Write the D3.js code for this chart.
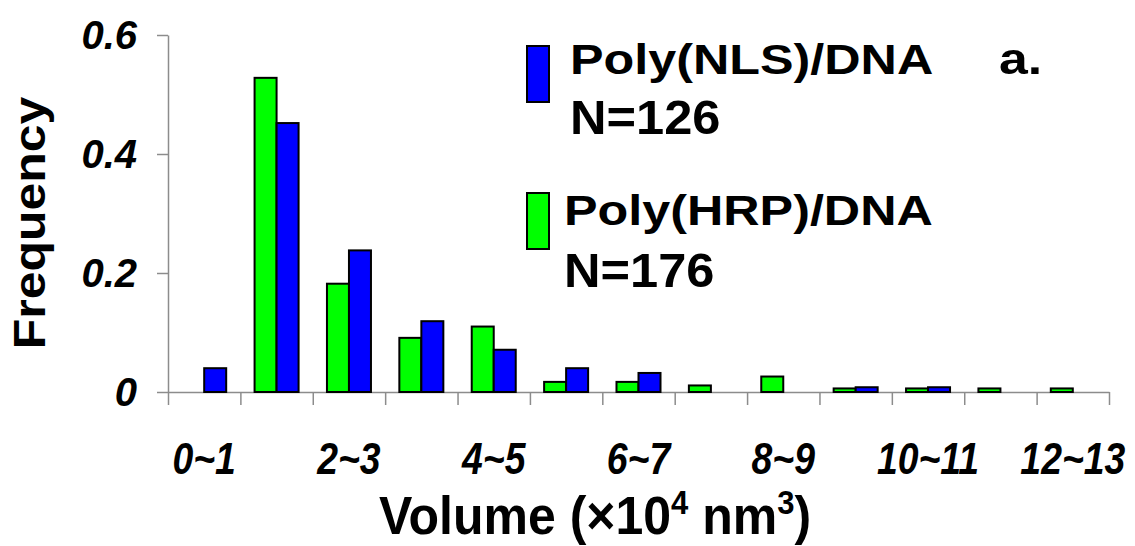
<!DOCTYPE html>
<html>
<head>
<meta charset="utf-8">
<script src="https://cdn.jsdelivr.net/npm/d3@7"></script>
<style>
  body { margin: 0; background: #fff; }
  svg text { font-family: "Liberation Sans", Arial, sans-serif; font-weight: bold; fill: #000; }
</style>
</head>
<body>
<div id="root"></div>
<script>
const width = 1135;
const height = 546;

// volume bins (x10^4 nm^3)
const categories = ["0~1", "1~2", "2~3", "3~4", "4~5", "5~6", "6~7", "7~8", "8~9", "9~10", "10~11", "11~12", "12~13"];
const hrp = [0, 0.528, 0.182, 0.091, 0.11, 0.017, 0.017, 0.011, 0.026, 0.006, 0.006, 0.006, 0.006];
const nls = [0.04, 0.452, 0.238, 0.119, 0.071, 0.04, 0.032, 0, 0, 0.008, 0.008, 0, 0];
const series = ["hrp", "nls"];
const yTicks = [0, 0.2, 0.4, 0.6];

const colors = { hrp: "#00ff00", nls: "#0000ff" };
const rows = categories.map((c, i) => ({ cat: c, hrp: hrp[i], nls: nls[i] }));

const plotLeft = 168, plotRight = 1109, plotTop = 35, plotBottom = 392;

const x = d3.scaleBand().domain(categories).range([plotLeft, plotRight]).padding(0);
const xs = d3.scaleBand().domain(series).range([0, x.bandwidth()]).paddingInner(0).paddingOuter(0.645);
const xl = d3.scaleLinear().domain([0, categories.length]).range([plotLeft, plotRight]);
const y = d3.scaleLinear().domain([0, 0.6]).range([plotBottom, plotTop]);

const svg = d3.create("svg").attr("width", width).attr("height", height);

// axes
const xAxis = svg.append("g")
  .attr("transform", `translate(0,${plotBottom})`)
  .call(d3.axisBottom(xl).ticks(categories.length).tickFormat("").tickSize(13).tickSizeOuter(0));
const yAxis = svg.append("g")
  .attr("transform", `translate(${plotLeft},0)`)
  .call(d3.axisLeft(y).tickValues(yTicks).tickFormat("").tickSize(11).tickSizeOuter(0));
[xAxis, yAxis].forEach(a => {
  a.selectAll("path, line").attr("stroke", "#8c8c8c").attr("stroke-width", 1.5);
  a.selectAll("text").remove();
});

// bars
svg.append("g")
  .selectAll("g")
  .data(rows)
  .join("g")
  .attr("transform", d => `translate(${x(d.cat)},0)`)
  .selectAll("rect")
  .data(d => series.map(s => ({ key: s, value: d[s] })).filter(v => v.value > 0))
  .join("rect")
  .attr("x", d => xs(d.key))
  .attr("width", xs.bandwidth())
  .attr("y", d => y(d.value))
  .attr("height", d => y(0) - y(d.value))
  .attr("fill", d => colors[d.key])
  .attr("stroke", "#000")
  .attr("stroke-width", 2);

// y tick labels
svg.append("g")
  .selectAll("text")
  .data(yTicks)
  .join("text")
  .attr("x", 137)
  .attr("y", d => y(d) + 14)
  .attr("text-anchor", "end")
  .attr("font-size", 40)
  .attr("font-style", "italic")
  .text(d => d === 0 ? "0" : d.toFixed(1));

// x tick labels (every other bin)
svg.append("g")
  .selectAll("text")
  .data(categories.filter((c, i) => i % 2 === 0))
  .join("text")
  .attr("transform", d => `translate(${x(d) + x.bandwidth() / 2},474) scale(0.83,1)`)
  .attr("text-anchor", "middle")
  .attr("font-size", 45)
  .attr("font-style", "italic")
  .text(d => d);

// axis titles
svg.append("text")
  .attr("transform", "translate(45,223) rotate(-90) scale(1.11,1)")
  .attr("text-anchor", "middle")
  .attr("font-size", 45)
  .text("Frequency");

const xt = svg.append("text")
  .attr("transform", "translate(595,534) scale(1,1.06)")
  .attr("text-anchor", "middle")
  .attr("font-size", 50);
xt.append("tspan").text("Volume (×10");
xt.append("tspan").attr("font-size", 31).attr("dy", -19).text("4");
xt.append("tspan").attr("dy", 19).text(" nm");
xt.append("tspan").attr("font-size", 31).attr("dy", -19).text("3");
xt.append("tspan").attr("dy", 19).text(")");

// legend
const legend = [
  { key: "nls", name: "Poly(NLS)/DNA", n: "N=126", y: 46, tx: 570, b1: 74, b2: 134 },
  { key: "hrp", name: "Poly(HRP)/DNA", n: "N=176", y: 193, tx: 564, b1: 225, b2: 287 }
];
const lg = svg.append("g");
lg.selectAll("rect")
  .data(legend)
  .join("rect")
  .attr("x", 527)
  .attr("y", d => d.y)
  .attr("width", 22)
  .attr("height", 56)
  .attr("fill", d => colors[d.key])
  .attr("stroke", "#000")
  .attr("stroke-width", 2);
lg.selectAll("text.name")
  .data(legend)
  .join("text")
  .attr("class", "name")
  .attr("transform", d => `translate(${d.tx},${d.b1}) scale(1.17,1)`)
  .attr("font-size", 43)
  .text(d => d.name);
lg.selectAll("text.n")
  .data(legend)
  .join("text")
  .attr("class", "n")
  .attr("transform", d => `translate(${d.tx},${d.b2}) scale(1.1,1.04)`)
  .attr("font-size", 46)
  .text(d => d.n);

svg.append("text")
  .attr("transform", "translate(999,74) scale(1.15,1)")
  .attr("font-size", 45)
  .text("a.");

d3.select("#root").append(() => svg.node());
</script>
</body>
</html>
